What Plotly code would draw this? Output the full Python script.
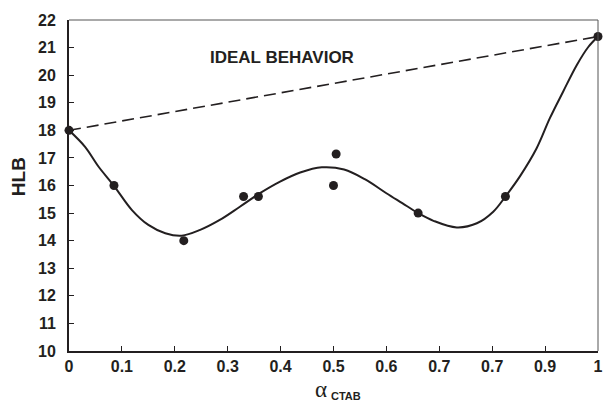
import plotly.graph_objects as go

# measured points
alpha_pts = [0.0, 0.085, 0.217, 0.33, 0.358, 0.50, 0.505, 0.66, 0.825, 1.0]
hlb_pts = [18.0, 16.0, 14.0, 15.6, 15.6, 16.0, 17.14, 15.0, 15.6, 21.4]

# fitted curve
curve_x = [0.0, 0.030, 0.056, 0.085, 0.119, 0.150, 0.182, 0.213, 0.248,
           0.285, 0.323, 0.361, 0.399, 0.437, 0.478, 0.520, 0.560, 0.600,
           0.630, 0.660, 0.689, 0.733, 0.771, 0.802, 0.825, 0.853, 0.884, 0.909,
           0.934, 0.960, 0.982, 1.0]
curve_y = [18.0, 17.41, 16.68, 15.99, 15.11, 14.57, 14.27, 14.18, 14.39,
           14.75, 15.23, 15.72, 16.14, 16.47, 16.66, 16.58, 16.22, 15.72,
           15.36, 15.0, 14.72, 14.48, 14.63, 15.05, 15.6, 16.35, 17.35, 18.44,
           19.40, 20.37, 21.03, 21.4]

# ideal behavior line
ideal_x = [0.0, 1.0]
ideal_y = [18.0, 21.4]

x_tickvals = [0, 0.1, 0.2, 0.3, 0.4, 0.5, 0.6, 0.7, 0.8, 0.9, 1.0]
x_ticktext = ["0", "0.1", "0.2", "0.3", "0.4", "0.5", "0.6", "0.7", "0.7", "0.9", "1"]
y_tickvals = list(range(10, 23))

ink = "#231f20"
font_family = "Liberation Sans, Arial, sans-serif"

fig = go.Figure()
fig.add_trace(go.Scatter(x=ideal_x, y=ideal_y, mode="lines",
                         line=dict(color=ink, width=1.6, dash="12px,6px"),
                         showlegend=False))
fig.add_trace(go.Scatter(x=curve_x, y=curve_y, mode="lines",
                         line=dict(color=ink, width=2, shape="spline", smoothing=1.0),
                         showlegend=False))
fig.add_trace(go.Scatter(x=alpha_pts, y=hlb_pts, mode="markers",
                         marker=dict(color=ink, size=9),
                         showlegend=False, cliponaxis=False))

fig.add_annotation(x=0.402, y=20.63, text="<b>IDEAL BEHAVIOR</b>", showarrow=False,
                   font=dict(family=font_family, size=17, color=ink))

# axis titles
fig.add_annotation(xref="paper", yref="paper", x=-0.094, y=0.526, text="<b>HLB</b>",
                   textangle=-90, showarrow=False, xanchor="center", yanchor="middle",
                   font=dict(family=font_family, size=19, color=ink))
fig.add_annotation(xref="paper", yref="paper", x=0.477, y=-0.116, text="α",
                   showarrow=False, xanchor="center", yanchor="middle",
                   font=dict(family="Liberation Serif, serif", size=23, color=ink))
fig.add_annotation(xref="paper", yref="paper", x=0.524, y=-0.136, text="<b>CTAB</b>",
                   showarrow=False, xanchor="center", yanchor="middle",
                   font=dict(family=font_family, size=11, color=ink))

# top / right frame lines
fig.add_shape(type="line", xref="x domain", yref="y domain", x0=0, x1=1, y0=1, y1=1,
              line=dict(color="#555", width=1))
fig.add_shape(type="line", xref="x domain", yref="y domain", x0=1, x1=1, y0=0, y1=1,
              line=dict(color="#555", width=1))

fig.update_layout(
    width=603, height=401,
    margin=dict(l=69, r=5, t=20, b=50),
    plot_bgcolor="white", paper_bgcolor="white",
    font=dict(family=font_family, color=ink),
    xaxis=dict(range=[0, 1], tickvals=x_tickvals, ticktext=x_ticktext, automargin=False,
               showgrid=False, zeroline=False, showline=True, linecolor=ink, linewidth=2,
               ticks="inside", ticklen=5, tickcolor=ink, tickwidth=1,
               tickfont=dict(size=16, weight="bold", family=font_family, color=ink)),
    yaxis=dict(range=[10, 22], tickvals=y_tickvals, automargin=False,
               showgrid=False, zeroline=False, showline=True, linecolor=ink, linewidth=2,
               ticks="inside", ticklen=5, tickcolor=ink, tickwidth=1, ticklabelstandoff=8,
               tickfont=dict(size=16, weight="bold", family=font_family, color=ink)),
)

fig.write_html("out.html", config={"displayModeBar": False},
               post_script="document.body.style.margin='0';document.body.style.overflow='hidden';")
